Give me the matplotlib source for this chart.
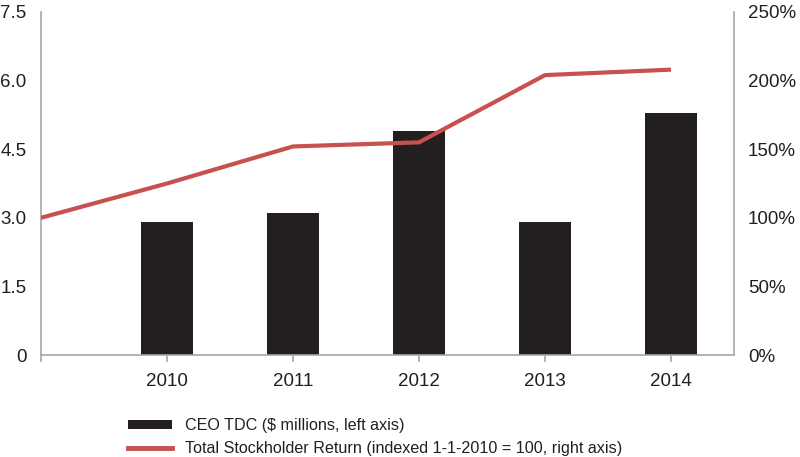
import matplotlib
matplotlib.use("Agg")
import matplotlib.pyplot as plt
from matplotlib.patches import Patch
from matplotlib.lines import Line2D

plt.rcParams['font.family'] = ['Liberation Sans', 'DejaVu Sans']

years = [2010, 2011, 2012, 2013, 2014]
ceo_tdc = [2.9, 3.1, 4.9, 2.9, 5.3]
tsr_x = [2009, 2010, 2011, 2012, 2013, 2014]
tsr = [100, 125, 152, 155, 204, 208]
left_ticks = [0, 1.5, 3.0, 4.5, 6.0, 7.5]
left_labels = ['0', '1.5', '3.0', '4.5', '6.0', '7.5']
right_ticks = [0, 50, 100, 150, 200, 250]
right_labels = ['0%', '50%', '100%', '150%', '200%', '250%']

bar_color = '#231F20'
line_color = '#C8504F'
spine_color = '#A6A6A6'
text_color = '#231F20'

fig = plt.figure(figsize=(8, 4.57), dpi=100)
ax = fig.add_axes([41/800, 1-355/457, (734-41)/800, (355-12)/457])
ax2 = ax.twinx()

ax.bar(years, ceo_tdc, width=0.41, color=bar_color, zorder=2)
ax2.plot(tsr_x, tsr, color=line_color, lw=3, solid_capstyle='butt', zorder=3)

ax.set_xlim(2009, 2014.5)
ax.set_ylim(0, 7.5)
ax2.set_ylim(0, 250)
ax.set_yticks(left_ticks)
ax.set_yticklabels(left_labels)
ax2.set_yticks(right_ticks)
ax2.set_yticklabels(right_labels)
ax.set_xticks([2009] + years)
ax.set_xticklabels([''] + [str(y) for y in years])

for a in (ax, ax2):
    a.spines['top'].set_visible(False)
    for s in ('left', 'right', 'bottom'):
        a.spines[s].set_color(spine_color)
        a.spines[s].set_linewidth(1.2)
ax.spines['right'].set_visible(False)
ax2.spines['left'].set_visible(False)
ax2.spines['bottom'].set_visible(False)

ax.tick_params(axis='y', length=0, pad=10.5, labelsize=13.5, labelcolor=text_color)
ax2.tick_params(axis='y', length=0, pad=10, labelsize=13.5, labelcolor=text_color)
ax.tick_params(axis='x', length=5, width=1.2, color=spine_color, pad=8,
               labelsize=13.5, labelcolor=text_color)

handles = [Patch(facecolor=bar_color, edgecolor='none'),
           Line2D([0], [0], color=line_color, lw=3.5)]
labels = ['CEO TDC ($ millions, left axis)',
          'Total Stockholder Return (indexed 1-1-2010 = 100, right axis)']
leg = fig.legend(handles, labels, loc='upper left', bbox_to_anchor=(128/800, 1-418/457),
                 frameon=False, fontsize=11.6, handlelength=2.75, handleheight=0.5,
                 handletextpad=0.8, labelspacing=0.5, borderaxespad=0, borderpad=0)
for t in leg.get_texts():
    t.set_color(text_color)

fig.savefig('out.png', dpi=100)
